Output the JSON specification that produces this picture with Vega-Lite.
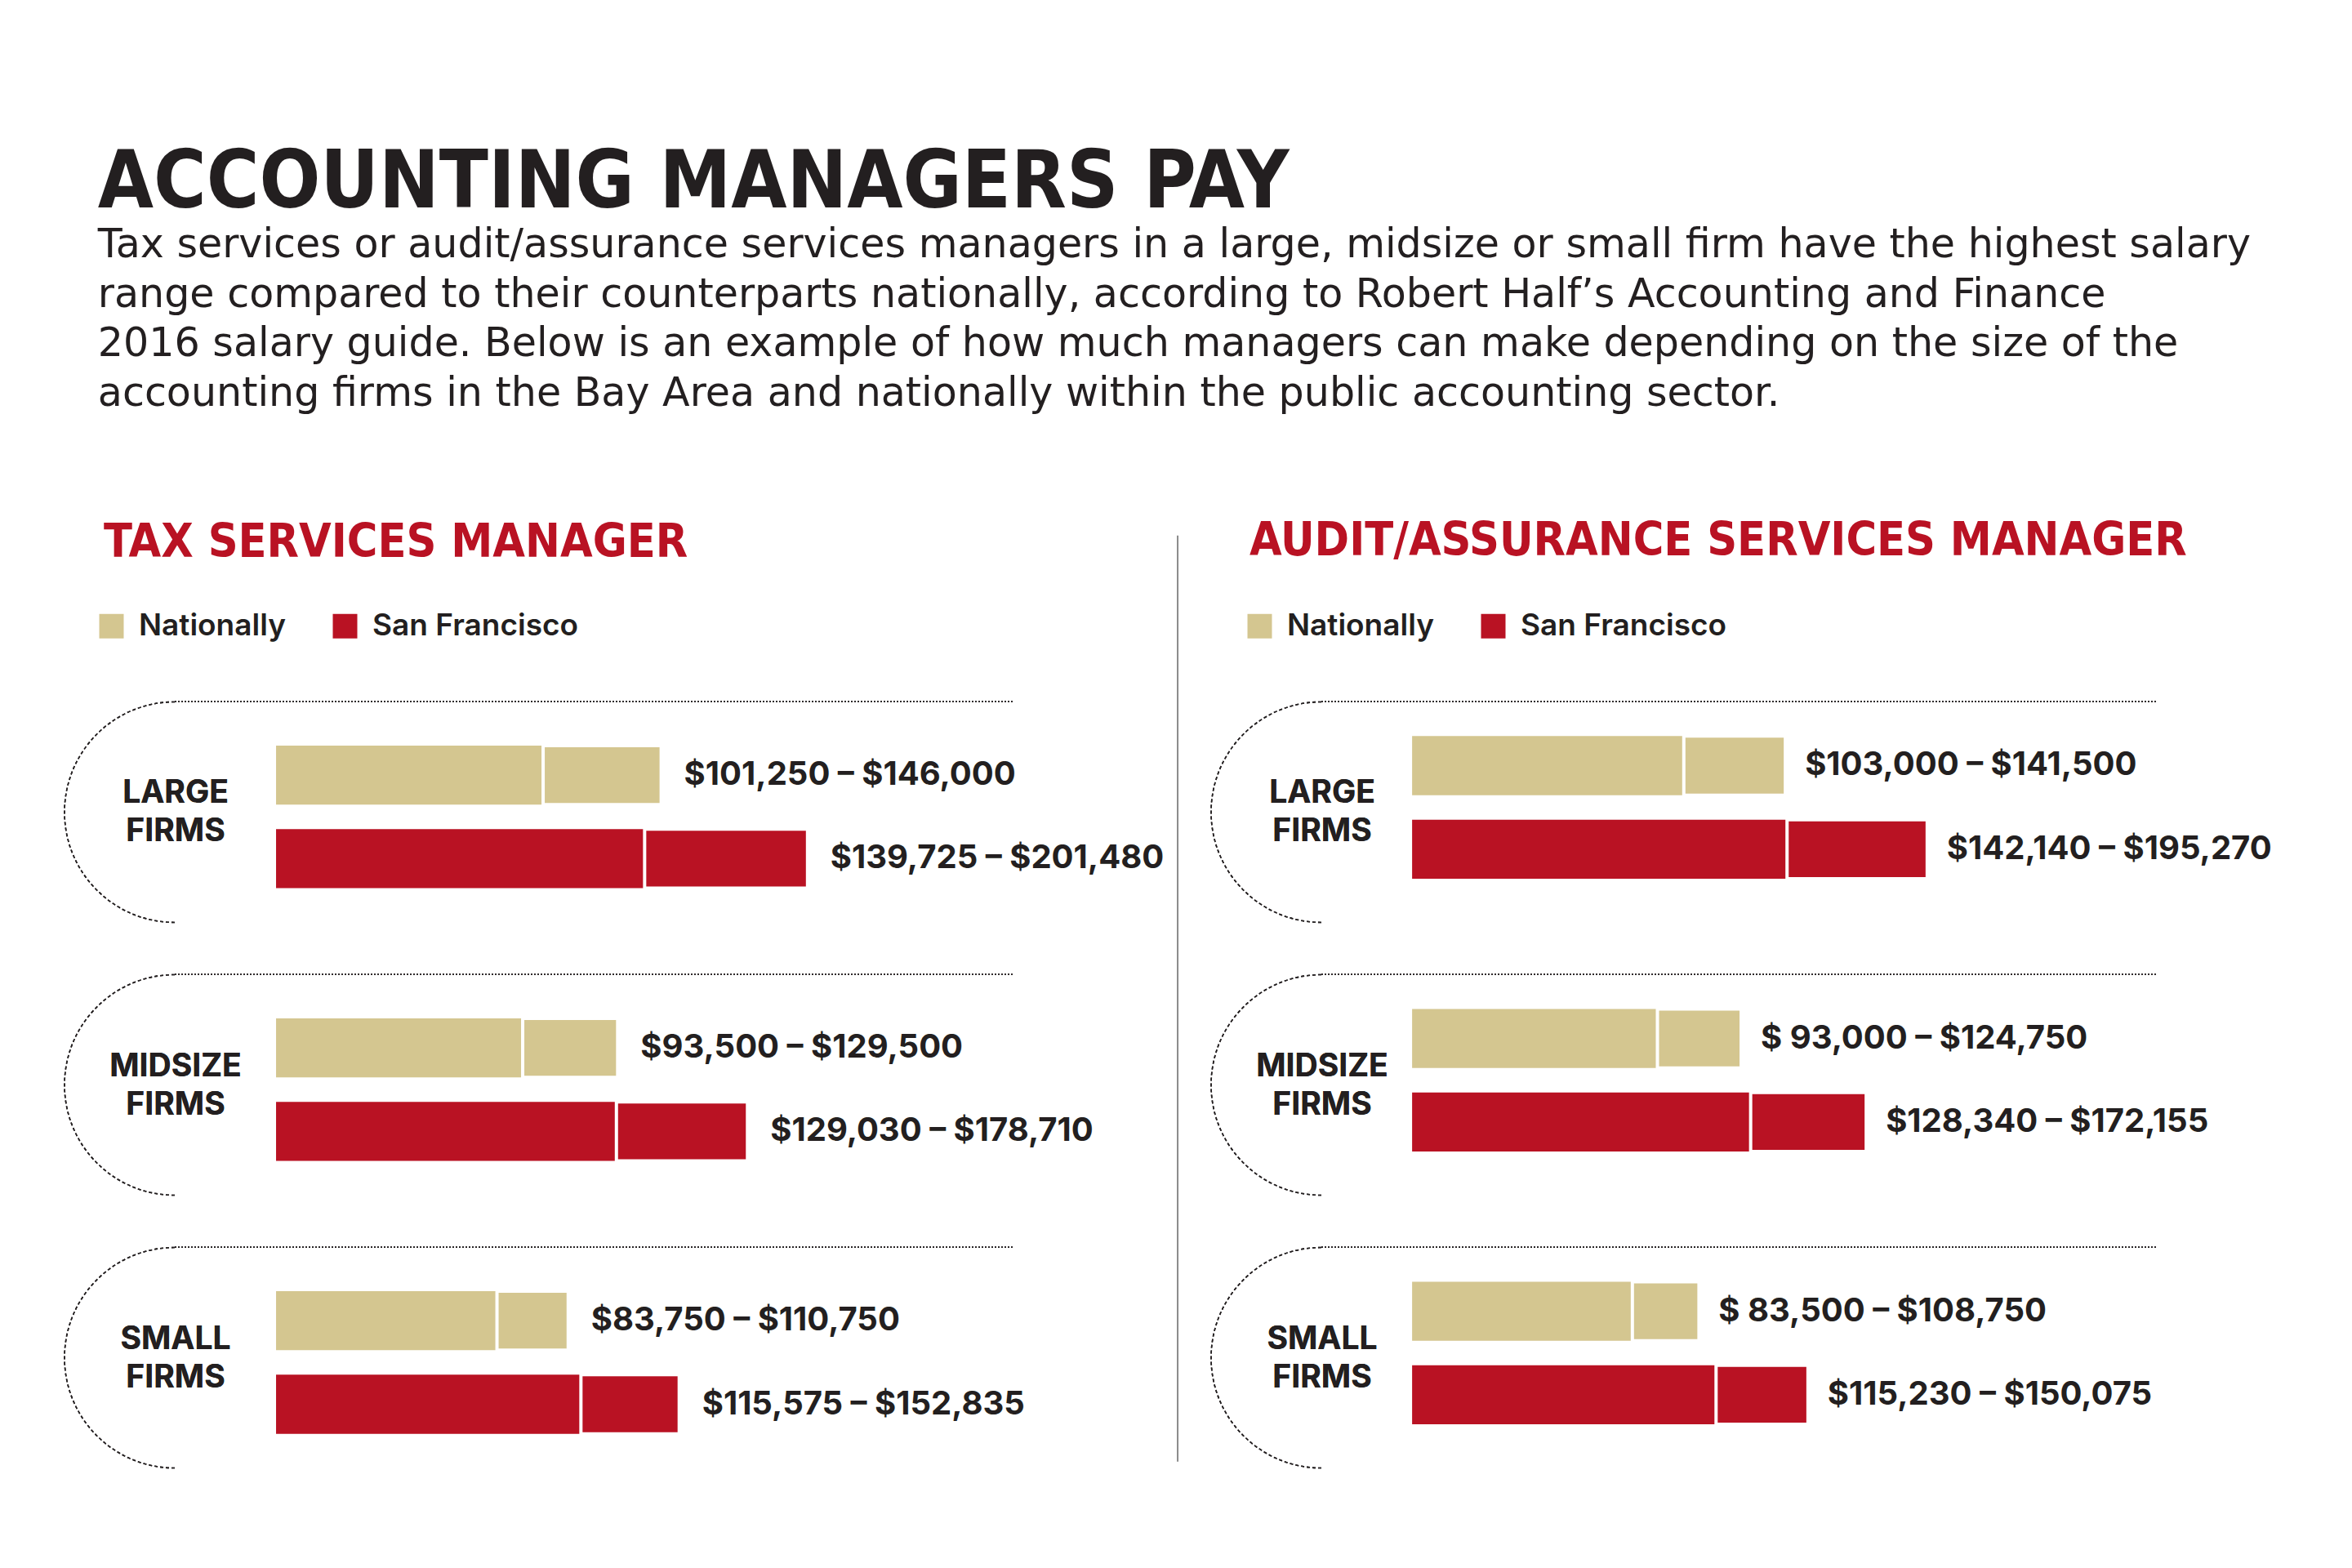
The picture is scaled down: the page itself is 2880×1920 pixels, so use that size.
{
  "$schema": "https://vega.github.io/schema/vega-lite/v6.json",
  "background": "white",
  "padding": {"left": 75, "top": 176, "right": 0, "bottom": 0},
  "bounds": "flush",
  "spacing": 377,
  "title": {
    "text": "ACCOUNTING MANAGERS PAY",
    "subtitle": [
      "Tax services or audit/assurance services managers in a large, midsize or small firm have the highest salary",
      "range compared to their counterparts nationally, according to Robert Half’s Accounting and Finance",
      "2016 salary guide. Below is an example of how much managers can make depending on the size of the",
      "accounting firms in the Bay Area and nationally within the public accounting sector."
    ],
    "anchor": "start",
    "frame": "bounds",
    "dx": 44,
    "font": "DejaVu Sans Condensed, Inter",
    "fontSize": 98,
    "fontWeight": "bold",
    "color": "#231F20",
    "subtitleFont": "DejaVu Sans",
    "subtitleFontSize": 49.1,
    "subtitleColor": "#231F20",
    "subtitleLineHeight": 60.6,
    "subtitlePadding": 1,
    "offset": 126
  },
  "datasets": {
    "pay": [
      {"panel": "Tax", "firm": "LARGE FIRMS", "region": "Nationally", "min": 101250, "max": 146000, "label": "$101,250 – $146,000"},
      {"panel": "Tax", "firm": "LARGE FIRMS", "region": "San Francisco", "min": 139725, "max": 201480, "label": "$139,725 – $201,480"},
      {"panel": "Tax", "firm": "MIDSIZE FIRMS", "region": "Nationally", "min": 93500, "max": 129500, "label": "$93,500 – $129,500"},
      {"panel": "Tax", "firm": "MIDSIZE FIRMS", "region": "San Francisco", "min": 129030, "max": 178710, "label": "$129,030 – $178,710"},
      {"panel": "Tax", "firm": "SMALL FIRMS", "region": "Nationally", "min": 83750, "max": 110750, "label": "$83,750 – $110,750"},
      {"panel": "Tax", "firm": "SMALL FIRMS", "region": "San Francisco", "min": 115575, "max": 152835, "label": "$115,575 – $152,835"},
      {"panel": "Audit", "firm": "LARGE FIRMS", "region": "Nationally", "min": 103000, "max": 141500, "label": "$103,000 – $141,500"},
      {"panel": "Audit", "firm": "LARGE FIRMS", "region": "San Francisco", "min": 142140, "max": 195270, "label": "$142,140 – $195,270"},
      {"panel": "Audit", "firm": "MIDSIZE FIRMS", "region": "Nationally", "min": 93000, "max": 124750, "label": "$ 93,000 –  $124,750"},
      {"panel": "Audit", "firm": "MIDSIZE FIRMS", "region": "San Francisco", "min": 128340, "max": 172155, "label": "$128,340 – $172,155"},
      {"panel": "Audit", "firm": "SMALL FIRMS", "region": "Nationally", "min": 83500, "max": 108750, "label": "$ 83,500 –  $108,750"},
      {"panel": "Audit", "firm": "SMALL FIRMS", "region": "San Francisco", "min": 115230, "max": 150075, "label": "$115,230 – $150,075"}
    ]
  },
  "hconcat": [
    {
      "title": {"text": "TAX SERVICES MANAGER", "dx": -87, "offset": -39},
      "width": 1027,
      "height": 939,
      "data": {"name": "pay"},
      "transform": [{"filter": "datum.panel == 'Tax'"}],
      "encoding": {
        "y": {"field": "firm", "type": "nominal", "sort": ["LARGE FIRMS", "MIDSIZE FIRMS", "SMALL FIRMS"], "axis": null,
              "scale": {"paddingInner": 0.189, "paddingOuter": 0}}
      },
      "layer": [
        {
          "mark": {"type": "bar"},
          "encoding": {
            "x": {"field": "min", "type": "quantitative", "axis": null, "scale": {"domain": [-38400, 279557], "nice": false, "zero": false}},
            "yOffset": {"field": "region", "sort": ["Nationally", "San Francisco"], "scale": {"paddingInner": 0.294, "paddingOuter": 0.47, "align": 0.56}},
            "color": {"field": "region", "type": "nominal",
                      "scale": {"domain": ["Nationally", "San Francisco"], "range": ["#D4C690", "#B91223"]},
                      "legend": {"orient": "none", "legendX": -96, "legendY": -111, "direction": "horizontal", "title": null}}
          }
        },
        {
          "mark": {"type": "bar", "stroke": "white", "strokeWidth": 4},
          "encoding": {
            "x": {"field": "min", "type": "quantitative"},
            "x2": {"field": "max"},
            "yOffset": {"field": "region", "sort": ["Nationally", "San Francisco"]},
            "color": {"field": "region", "type": "nominal"}
          }
        },
        {
          "mark": {"type": "text", "align": "left", "baseline": "middle", "dx": 28, "font": "Inter", "fontSize": 40, "fontWeight": "bold", "color": "#231F20"},
          "encoding": {
            "x": {"field": "max", "type": "quantitative"},
            "yOffset": {"field": "region", "sort": ["Nationally", "San Francisco"]},
            "text": {"field": "label"}
          }
        },
        {
          "mark": {"type": "text", "align": "center", "baseline": "middle", "dx": 1, "dy": -23, "lineBreak": " ", "lineHeight": 47, "font": "Inter", "fontSize": 39, "fontWeight": "bold", "color": "#231F20"},
          "encoding": {
            "x": {"datum": -38400},
            "text": {"field": "firm"}
          }
        },
        {
          "mark": {"type": "point", "shape": "M 0 -1 A 1 1 0 0 0 0 1", "size": 72900, "filled": false, "stroke": "#231F20", "strokeWidth": 1.6, "strokeDash": [4, 3], "opacity": 1},
          "encoding": {
            "x": {"datum": -38400}
          }
        },
        {
          "mark": {"type": "rule", "stroke": "#231F20", "strokeWidth": 1.6, "strokeDash": [2, 2]},
          "encoding": {
            "x": {"datum": -38400},
            "x2": {"datum": 279557},
            "y": {"field": "firm", "type": "nominal", "sort": ["LARGE FIRMS", "MIDSIZE FIRMS", "SMALL FIRMS"], "bandPosition": 0}
          }
        },
        {
          "data": {"values": [{"divider": 1}]},
          "mark": {"type": "rule", "stroke": "#8A8A8A", "strokeWidth": 2},
          "encoding": {
            "x": {"datum": 341800},
            "y": {"datum": "LARGE FIRMS", "bandPosition": -0.75},
            "y2": {"datum": "SMALL FIRMS", "bandPosition": 0.97}
          }
        }
      ]
    },
    {
      "title": {"text": "AUDIT/ASSURANCE SERVICES MANAGER", "dx": -88, "offset": 56},
      "width": 1022,
      "height": 939,
      "data": {"name": "pay"},
      "transform": [{"filter": "datum.panel == 'Audit'"}],
      "encoding": {
        "y": {"field": "firm", "type": "nominal", "sort": ["LARGE FIRMS", "MIDSIZE FIRMS", "SMALL FIRMS"], "axis": null,
              "scale": {"paddingInner": 0.189, "paddingOuter": 0}}
      },
      "layer": [
        {
          "mark": {"type": "bar"},
          "encoding": {
            "x": {"field": "min", "type": "quantitative", "axis": null, "scale": {"domain": [-34400, 282009], "nice": false, "zero": false}},
            "yOffset": {"field": "region", "sort": ["Nationally", "San Francisco"], "scale": {"paddingInner": 0.294, "paddingOuter": 0.47, "align": 0.44}},
            "color": {"field": "region", "type": "nominal",
                      "scale": {"domain": ["Nationally", "San Francisco"], "range": ["#D4C690", "#B91223"]},
                      "legend": {"orient": "none", "legendX": -94, "legendY": -111, "direction": "horizontal", "title": null}}
          }
        },
        {
          "mark": {"type": "bar", "stroke": "white", "strokeWidth": 4},
          "encoding": {
            "x": {"field": "min", "type": "quantitative"},
            "x2": {"field": "max"},
            "yOffset": {"field": "region", "sort": ["Nationally", "San Francisco"]},
            "color": {"field": "region", "type": "nominal"}
          }
        },
        {
          "mark": {"type": "text", "align": "left", "baseline": "middle", "dx": 24, "font": "Inter", "fontSize": 40, "fontWeight": "bold", "color": "#231F20"},
          "encoding": {
            "x": {"field": "max", "type": "quantitative"},
            "yOffset": {"field": "region", "sort": ["Nationally", "San Francisco"]},
            "text": {"field": "label"}
          }
        },
        {
          "mark": {"type": "text", "align": "center", "baseline": "middle", "dx": 1, "dy": -23, "lineBreak": " ", "lineHeight": 47, "font": "Inter", "fontSize": 39, "fontWeight": "bold", "color": "#231F20"},
          "encoding": {
            "x": {"datum": -34400},
            "text": {"field": "firm"}
          }
        },
        {
          "mark": {"type": "point", "shape": "M 0 -1 A 1 1 0 0 0 0 1", "size": 72900, "filled": false, "stroke": "#231F20", "strokeWidth": 1.6, "strokeDash": [4, 3], "opacity": 1},
          "encoding": {
            "x": {"datum": -34400}
          }
        },
        {
          "mark": {"type": "rule", "stroke": "#231F20", "strokeWidth": 1.6, "strokeDash": [2, 2]},
          "encoding": {
            "x": {"datum": -34400},
            "x2": {"datum": 282009},
            "y": {"field": "firm", "type": "nominal", "sort": ["LARGE FIRMS", "MIDSIZE FIRMS", "SMALL FIRMS"], "bandPosition": 0}
          }
        }
      ]
    }
  ],
  "resolve": {"scale": {"x": "independent", "y": "independent", "yOffset": "independent", "color": "independent"}, "legend": {"color": "independent"}},
  "config": {
    "font": "Inter",
    "view": {"stroke": null},
    "title": {
      "anchor": "start",
      "frame": "group",
      "font": "DejaVu Sans Condensed, Inter",
      "fontSize": 57,
      "fontWeight": "bold",
      "color": "#B91223"
    },
    "legend": {
      "symbolType": "square",
      "symbolSize": 900,
      "symbolStrokeWidth": 0,
      "labelFont": "Inter",
      "labelFontSize": 37,
      "labelFontWeight": 600,
      "labelColor": "#231F20",
      "labelOffset": 15,
      "labelLimit": 0,
      "columnPadding": 54,
      "padding": 0,
      "symbolOpacity": 1
    }
  }
}
